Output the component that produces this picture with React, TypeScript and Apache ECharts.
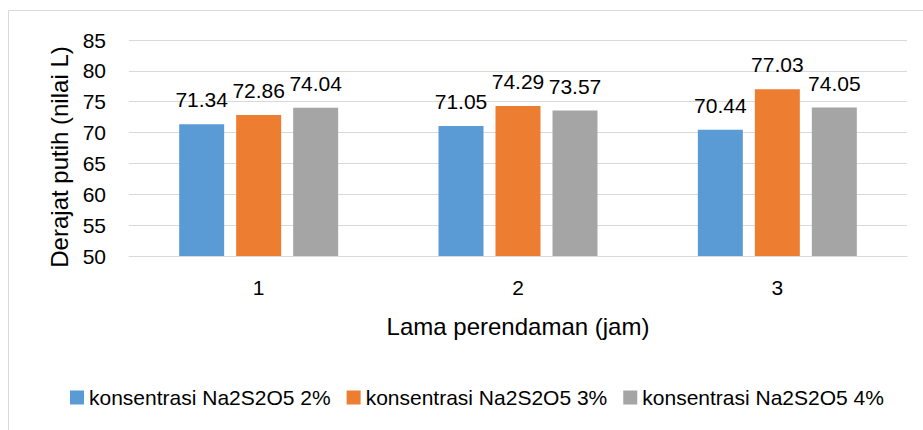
import React, { useEffect, useRef } from "react";
import * as echarts from "echarts";

const categories = ["1", "2", "3"];
const seriesNames = [
  "konsentrasi Na2S2O5 2%",
  "konsentrasi Na2S2O5 3%",
  "konsentrasi Na2S2O5 4%",
];
const values2 = [71.34, 71.05, 70.44];
const values3 = [72.86, 74.29, 77.03];
const values4 = [74.04, 73.57, 74.05];
const colors = ["#5B9BD5", "#ED7D31", "#A5A5A5"];
const yMin = 50;
const yMax = 85;
const yStep = 5;

const FONT = "'Liberation Sans', Arial, sans-serif";

export default function App() {
  const ref = useRef<HTMLDivElement>(null);
  useEffect(() => {
    if (!ref.current) return;
    const chart = echarts.init(ref.current, undefined, { renderer: "svg" });
    const seriesData = [values2, values3, values4];
    chart.setOption({
      animation: false,
      backgroundColor: "#ffffff",
      textStyle: { fontFamily: FONT },
      graphic: [
        {
          type: "rect",
          shape: { x: 8.5, y: 10.5, width: 1000, height: 1000 },
          style: { fill: "none", stroke: "#D9D9D9", lineWidth: 1 },
          silent: true,
        },
      ],
      grid: { left: 129, right: 16, top: 40, bottom: 174 },
      legend: {
        left: 70,
        top: 387,
        itemWidth: 14,
        itemHeight: 14,
        itemGap: 16,
        padding: 0,
        icon: "rect",
        textStyle: { fontSize: 21, color: "#000", fontFamily: FONT },
        data: seriesNames,
      },
      xAxis: {
        type: "category",
        data: categories,
        axisLine: { show: true, lineStyle: { color: "#D9D9D9", width: 1 } },
        axisTick: { show: false },
        axisLabel: { fontSize: 21, color: "#000", margin: 21, fontFamily: FONT },
        name: "Lama perendaman (jam)",
        nameLocation: "middle",
        nameGap: 58,
        nameTextStyle: { fontSize: 24, color: "#000", fontFamily: FONT },
      },
      yAxis: {
        type: "value",
        min: yMin,
        max: yMax,
        interval: yStep,
        axisLine: { show: false },
        axisTick: { show: false },
        splitLine: { lineStyle: { color: "#D9D9D9", width: 1 } },
        axisLabel: { fontSize: 21, color: "#000", margin: 23, fontFamily: FONT },
        name: "Derajat putih (nilai L)",
        nameLocation: "middle",
        nameRotate: 90,
        nameGap: 54,
        nameTextStyle: {
          fontSize: 24,
          color: "#000",
          fontFamily: FONT,
          padding: [0, 18, 0, 0],
        },
      },
      series: seriesNames.map((name, i) => ({
        name,
        type: "bar",
        data: seriesData[i],
        barGap: "26.7%",
        barCategoryGap: "38.7%",
        itemStyle: { color: colors[i] },
        label: {
          show: true,
          position: "top",
          distance: 14,
          fontSize: 21,
          color: "#000",
          fontFamily: FONT,
          formatter: (p: any) => p.value.toFixed(2),
        },
      })),
    });
    return () => chart.dispose();
  }, []);
  return (
    <div
      ref={ref}
      style={{ position: "fixed", left: 0, top: 0, width: 923, height: 430 }}
    />
  );
}
